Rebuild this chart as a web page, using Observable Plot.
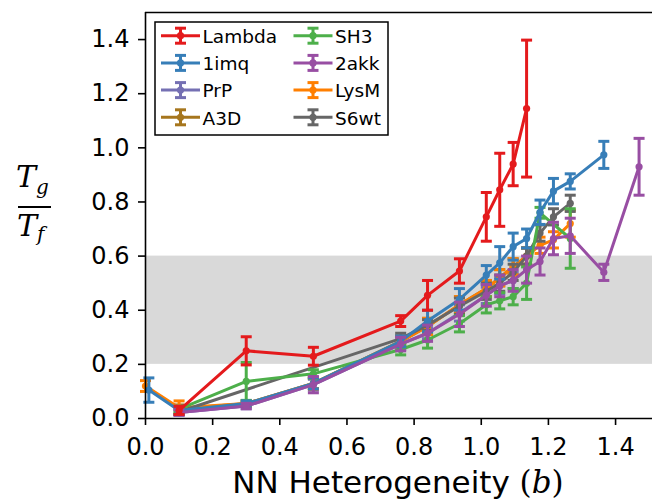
<!DOCTYPE html>
<html>
<head>
<meta charset="utf-8">
<script src="https://cdn.jsdelivr.net/npm/d3@7"></script>
<script src="https://cdn.jsdelivr.net/npm/@observablehq/plot@0.6"></script>
<style>
  html, body { margin: 0; padding: 0; background: #fff; }
  #chart svg { display: block; }
</style>
</head>
<body>
<div id="chart"></div>
<script>
// ---- data ----
const seriesNames = ["Lambda", "1imq", "PrP", "A3D", "SH3", "2akk", "LysM", "S6wt"];
const seriesColors = ["#e41a1c", "#377eb8", "#7570b3", "#a6761d", "#4daf4a", "#984ea3", "#ff7f00", "#666666"];

const lambdaX   = [0.1, 0.3, 0.5, 0.76, 0.84, 0.935, 1.015, 1.055, 1.095, 1.135];
const lambdaY   = [0.03, 0.25, 0.23, 0.36, 0.455, 0.545, 0.745, 0.845, 0.94, 1.145];
const lambdaErr = [0.015, 0.052, 0.033, 0.02, 0.055, 0.045, 0.09, 0.135, 0.08, 0.253];

const imqX   = [0.01, 0.1, 0.3, 0.5, 0.76, 0.84, 0.935, 1.015, 1.055, 1.095, 1.135, 1.175, 1.215, 1.265, 1.365];
const imqY   = [0.105, 0.03, 0.055, 0.13, 0.285, 0.36, 0.44, 0.53, 0.575, 0.635, 0.665, 0.762, 0.84, 0.876, 0.974];
const imqErr = [0.045, 0.015, 0.01, 0.02, 0.02, 0.04, 0.04, 0.035, 0.06, 0.05, 0.035, 0.045, 0.047, 0.028, 0.05];

const prpX   = [0.1, 0.3, 0.5, 0.76, 0.84, 0.935, 1.015, 1.055, 1.095];
const prpY   = [0.022, 0.046, 0.125, 0.275, 0.315, 0.39, 0.455, 0.49, 0.51];
const prpErr = [0.01, 0.01, 0.02, 0.02, 0.02, 0.03, 0.03, 0.03, 0.03];

const a3dX   = [0.1, 0.3, 0.5, 0.76, 0.84, 0.935, 1.015, 1.055, 1.095, 1.135];
const a3dY   = [0.035, 0.055, 0.13, 0.285, 0.34, 0.42, 0.48, 0.52, 0.56, 0.6];
const a3dErr = [0.015, 0.01, 0.02, 0.02, 0.03, 0.03, 0.03, 0.03, 0.03, 0.03];

const sh3X   = [0.1, 0.3, 0.5, 0.76, 0.84, 0.935, 1.015, 1.055, 1.095, 1.135, 1.175, 1.265];
const sh3Y   = [0.035, 0.137, 0.165, 0.255, 0.29, 0.35, 0.42, 0.435, 0.45, 0.5, 0.76, 0.665];
const sh3Err = [0.01, 0.07, 0.015, 0.02, 0.03, 0.03, 0.03, 0.03, 0.03, 0.06, 0.02, 0.11];

const akkX   = [0.1, 0.3, 0.5, 0.76, 0.84, 0.935, 1.015, 1.055, 1.095, 1.135, 1.175, 1.215, 1.265, 1.365, 1.47];
const akkY   = [0.022, 0.046, 0.125, 0.275, 0.315, 0.385, 0.455, 0.49, 0.51, 0.55, 0.58, 0.665, 0.675, 0.54, 0.93];
const akkErr = [0.01, 0.01, 0.03, 0.025, 0.03, 0.045, 0.04, 0.04, 0.04, 0.05, 0.05, 0.06, 0.065, 0.03, 0.105];

const lysmX   = [0.0, 0.1, 0.3, 0.5, 0.76, 0.84, 0.935, 1.015, 1.055, 1.095, 1.135, 1.175, 1.215, 1.265];
const lysmY   = [0.12, 0.04, 0.055, 0.13, 0.285, 0.34, 0.42, 0.48, 0.52, 0.56, 0.6, 0.64, 0.66, 0.72];
const lysmErr = [0.02, 0.025, 0.01, 0.02, 0.02, 0.03, 0.03, 0.03, 0.03, 0.03, 0.03, 0.03, 0.03, 0.05];

const s6X   = [0.1, 0.76, 0.84, 0.935, 1.015, 1.055, 1.095, 1.135, 1.175, 1.215, 1.265];
const s6Y   = [0.025, 0.295, 0.345, 0.415, 0.47, 0.5, 0.54, 0.6, 0.685, 0.745, 0.795];
const s6Err = [0.01, 0.02, 0.02, 0.03, 0.03, 0.03, 0.03, 0.03, 0.03, 0.03, 0.03];

const xTicks = [0.0, 0.2, 0.4, 0.6, 0.8, 1.0, 1.2, 1.4];
const yTicks = [0.0, 0.2, 0.4, 0.6, 0.8, 1.0, 1.2, 1.4];
const bandLow = 0.2, bandHigh = 0.6;
const xDomain = [0, 1.51], yDomain = [0, 1.5];

// ---- build table ----
const seriesData = {
  "Lambda": [lambdaX, lambdaY, lambdaErr],
  "1imq": [imqX, imqY, imqErr],
  "PrP": [prpX, prpY, prpErr],
  "A3D": [a3dX, a3dY, a3dErr],
  "SH3": [sh3X, sh3Y, sh3Err],
  "2akk": [akkX, akkY, akkErr],
  "LysM": [lysmX, lysmY, lysmErr],
  "S6wt": [s6X, s6Y, s6Err]
};
const rows = [];
for (const name of seriesNames) {
  const [xs, ys, es] = seriesData[name];
  xs.forEach((x, i) => rows.push({name, x, y: ys[i], lo: ys[i] - es[i], hi: ys[i] + es[i]}));
}
const drawOrder = ["PrP", "A3D", "LysM", "S6wt", "SH3", "1imq", "2akk", "Lambda"];

const capSymbol = { draw(ctx) { ctx.moveTo(-5.5, 0); ctx.lineTo(5.5, 0); } };

const marks = [
  Plot.rect([{x1: xDomain[0], x2: xDomain[1], y1: bandLow, y2: bandHigh}], {x1: "x1", x2: "x2", y1: "y1", y2: "y2", fill: "#d9d9d9"})
];
for (const name of drawOrder) {
  const d = rows.filter(r => r.name === name);
  marks.push(
    Plot.line(d, {x: "x", y: "y", stroke: "name", strokeWidth: 3}),
    Plot.ruleX(d, {x: "x", y1: "lo", y2: "hi", stroke: "name", strokeWidth: 3}),
    Plot.dot(d, {x: "x", y: "lo", symbol: capSymbol, stroke: "name", fill: "none", strokeWidth: 3}),
    Plot.dot(d, {x: "x", y: "hi", symbol: capSymbol, stroke: "name", fill: "none", strokeWidth: 3}),
    Plot.dot(d, {x: "x", y: "y", r: 3.6, fill: "name", stroke: "none"})
  );
}
marks.push(
  Plot.ruleX([xDomain[0]], {stroke: "#000", strokeWidth: 1.6}),
  Plot.ruleY([yDomain[0], yDomain[1]], {stroke: "#000", strokeWidth: 1.6}),
  Plot.axisX({ticks: xTicks, tickFormat: d3.format(".1f"), tickSize: 7, tickPadding: 12, strokeWidth: 1.6, label: null, fontSize: 24}),
  Plot.axisY({ticks: yTicks, tickFormat: d3.format(".1f"), tickSize: 7, tickPadding: 9, strokeWidth: 1.6, label: null, fontSize: 24})
);

const chart = Plot.plot({
  width: 652, height: 504,
  marginLeft: 145, marginRight: 0, marginTop: 12, marginBottom: 86,
  x: {domain: xDomain},
  y: {domain: yDomain},
  color: {domain: seriesNames, range: seriesColors},
  style: {fontFamily: "DejaVu Sans, sans-serif", fontSize: "24px", background: "#fff", color: "#000"},
  marks
});
document.getElementById("chart").appendChild(chart);

// ---- labels & legend ----
const svg = d3.select(chart);

const xl = svg.append("text").attr("x", 398).attr("y", 493).attr("text-anchor", "middle")
  .attr("font-family", "DejaVu Sans, sans-serif").attr("font-size", 31).attr("fill", "#000");
xl.append("tspan").text("NN Heterogeneity ");
xl.append("tspan").attr("font-family", "DejaVu Serif, serif").text("(");
xl.append("tspan").attr("font-family", "DejaVu Serif, serif").attr("font-style", "italic").text("b");
xl.append("tspan").attr("font-family", "DejaVu Serif, serif").text(")");

const yl = svg.append("g").attr("font-family", "DejaVu Serif, serif").attr("font-style", "italic")
  .attr("fill", "#000").attr("text-anchor", "start");
const num = yl.append("text").attr("x", 16).attr("y", 187).attr("font-size", 30);
num.append("tspan").text("T");
num.append("tspan").attr("font-size", 20).attr("dy", 7).text("g");
yl.append("line").attr("x1", 18).attr("x2", 51).attr("y1", 207).attr("y2", 207).attr("stroke", "#000").attr("stroke-width", 2);
const den = yl.append("text").attr("x", 17).attr("y", 236).attr("font-size", 30);
den.append("tspan").text("T");
den.append("tspan").attr("font-size", 20).attr("dy", 5).text("f");

const lg = svg.append("g").attr("text-anchor", "start");
lg.append("rect").attr("x", 155).attr("y", 22).attr("width", 233).attr("height", 113)
  .attr("fill", "#fff").attr("stroke", "#000").attr("stroke-width", 1.5);
seriesNames.forEach((name, i) => {
  const col = Math.floor(i / 4), row = i % 4;
  const x0 = col === 0 ? 161 : 293.5, x1 = x0 + 39, cx = (x0 + x1) / 2;
  const cy = 35.7 + row * 27.2;
  const c = seriesColors[i];
  const g = lg.append("g").attr("stroke", c).attr("stroke-width", 3);
  g.append("line").attr("x1", x0).attr("x2", x1).attr("y1", cy).attr("y2", cy);
  g.append("line").attr("x1", cx).attr("x2", cx).attr("y1", cy - 7.5).attr("y2", cy + 7.5);
  g.append("line").attr("x1", cx - 5.5).attr("x2", cx + 5.5).attr("y1", cy - 7.5).attr("y2", cy - 7.5);
  g.append("line").attr("x1", cx - 5.5).attr("x2", cx + 5.5).attr("y1", cy + 7.5).attr("y2", cy + 7.5);
  lg.append("circle").attr("cx", cx).attr("cy", cy).attr("r", 3.6).attr("fill", c);
  lg.append("text").attr("x", x1 + 2.5).attr("y", cy + 7.3).attr("font-family", "DejaVu Sans, sans-serif")
    .attr("font-size", 18.5).attr("fill", "#000").attr("text-anchor", "start").text(name);
});
</script>
</body>
</html>
